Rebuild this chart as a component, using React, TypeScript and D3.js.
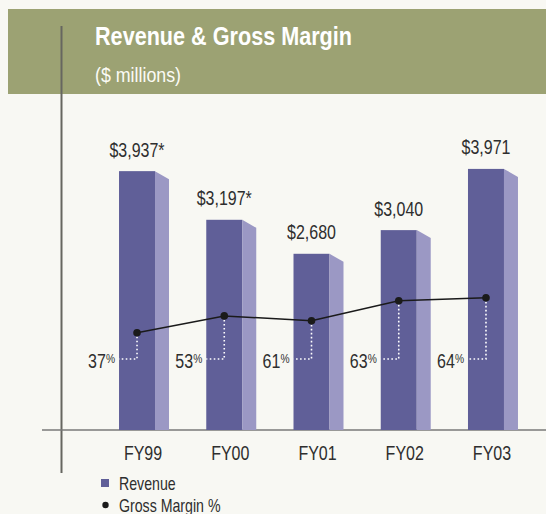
import React from "react";
import * as d3 from "d3";

const categories = ["FY99", "FY00", "FY01", "FY02", "FY03"];
const revenue = [3937, 3197, 2680, 3040, 3971];
const revenueLabels = ["$3,937*", "$3,197*", "$2,680", "$3,040", "$3,971"];
const grossMargin = [37, 53, 61, 63, 64];
// height (on the revenue axis, $M) at which each margin dot is drawn in the picture
const marginDotLevel = [1480, 1735, 1660, 1965, 2010];
const legendItems = ["Revenue", "Gross Margin %"];

const W = 546;
const H = 514;
const FONT = "'Liberation Sans', Arial, sans-serif";
const INK = "#2e2e2e";

function T(props: {
  x: number;
  y: number;
  sx?: number;
  size: number;
  anchor?: "start" | "middle" | "end";
  fill?: string;
  weight?: string | number;
  children: React.ReactNode;
}) {
  const { x, y, sx = 0.82, size, anchor = "start", fill = INK, weight, children } = props;
  return (
    <text
      transform={`translate(${x},${y}) scale(${sx},1)`}
      textAnchor={anchor}
      fontSize={size}
      fill={fill}
      fontWeight={weight}
    >
      {children}
    </text>
  );
}

export default function App() {
  const y = d3.scaleLinear().domain([0, 4000]).range([430, 167]);
  const x = d3
    .scaleBand<string>()
    .domain(categories)
    .range([100.4, 536.6])
    .paddingInner(0.427)
    .paddingOuter(0.2135);
  const bw = x.bandwidth();
  const front = bw * 0.72;

  const pts: [number, number][] = categories.map((c, i) => [
    (x(c) as number) + front / 2,
    y(marginDotLevel[i]),
  ]);
  const line = d3.line();
  const connY = 359;

  return (
    <svg
      width={W}
      height={H}
      style={{ position: "absolute", left: 0, top: 0 }}
      fontFamily={FONT}
    >
      <rect x={0} y={0} width={W} height={H} fill="#f8f8f3" />
      <rect x={8} y={9} width={W - 8} height={85} fill="#9ca273" />
      <T x={95} y={45} size={25} sx={0.865} fill="#ffffff" weight="bold">
        Revenue &amp; Gross Margin
      </T>
      <T x={95} y={82} size={20} sx={0.89} fill="#fbfbf5">
        ($ millions)
      </T>

      {/* axes */}
      <line x1={61.5} x2={61.5} y1={26} y2={473} stroke="#666660" strokeWidth={2} />
      <line x1={42} x2={W} y1={430} y2={430} stroke="#7a7a78" strokeWidth={1.6} />

      {/* bars */}
      {categories.map((c, i) => {
        const x0 = x(c) as number;
        const top = y(revenue[i]);
        return (
          <g key={c}>
            <rect x={x0} y={top} width={front} height={y(0) - top} fill="#605f98" />
            <path
              d={`M${x0 + front},${top}L${x0 + bw},${top + 8}L${x0 + bw},${y(0)}L${x0 + front},${y(0)}Z`}
              fill="#9b98c4"
            />
            <T x={x0 + front / 2} y={top - 14.5} anchor="middle" size={19.5}>
              {revenueLabels[i]}
            </T>
            <T x={x0 + bw / 2 - 1} y={460} anchor="middle" size={20} sx={0.8}>
              {c}
            </T>
          </g>
        );
      })}

      {/* connectors */}
      {categories.map((c, i) => {
        const x0 = x(c) as number;
        const [px, py] = pts[i];
        return (
          <g key={"m" + c}>
            <path
              d={`M${px},${py}L${px},${connY}L${x0},${connY}`}
              fill="none"
              stroke="#ffffff"
              strokeWidth={1.6}
              strokeDasharray="1.6,2.4"
            />
            <T x={x0 - 4} y={368} anchor="end" size={19.5}>
              {grossMargin[i]}
              <tspan fontSize={12.5} dy={-5}>%</tspan>
            </T>
          </g>
        );
      })}

      <path d={line(pts) as string} fill="none" stroke="#1a1a1a" strokeWidth={1.5} />
      {pts.map((p, i) => (
        <circle key={i} cx={p[0]} cy={p[1]} r={3.8} fill="#1a1a1a" />
      ))}

      {/* legend */}
      <rect x={101} y={479} width={8} height={8} fill="#605f98" />
      <T x={119} y={489.5} size={17.5} sx={0.81}>
        {legendItems[0]}
      </T>
      <circle cx={105.5} cy={505} r={3.2} fill="#1a1a1a" />
      <T x={119} y={511.5} size={17.5} sx={0.81}>
        {legendItems[1]}
      </T>
    </svg>
  );
}
